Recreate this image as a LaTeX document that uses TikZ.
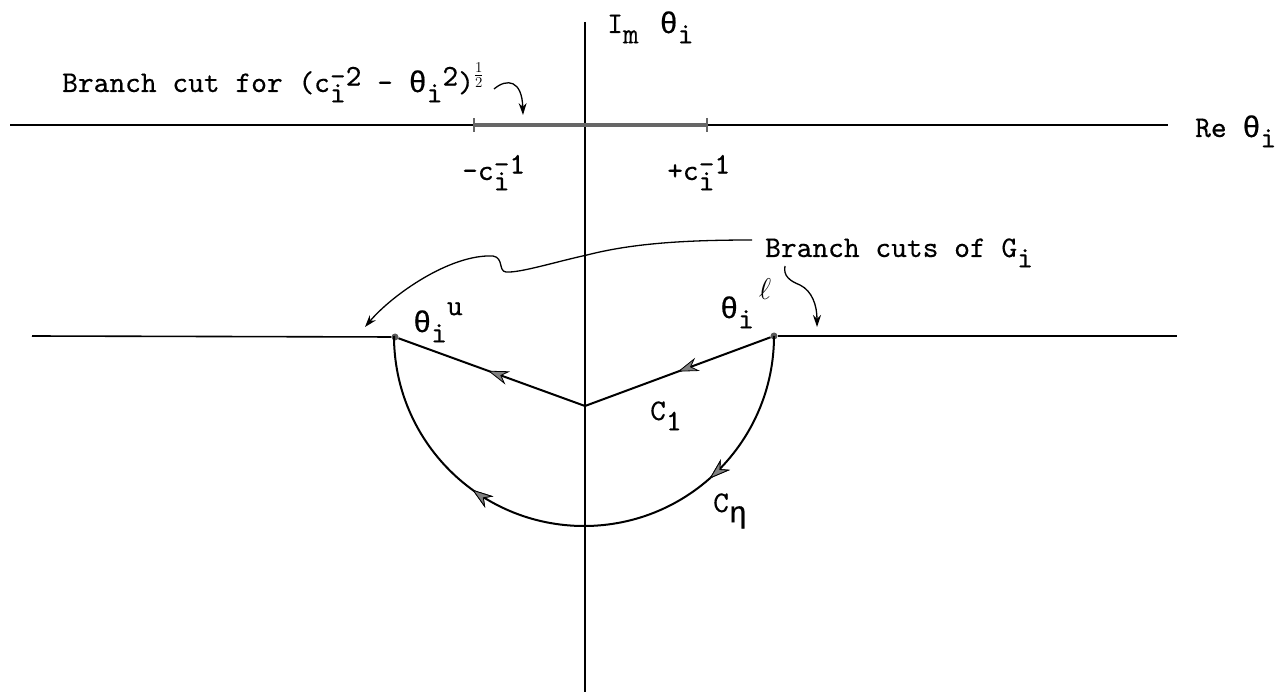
\RequirePackage{fix-cm}
\documentclass[tikz,border=0pt]{standalone}
\usepackage{fontspec}
\setmonofont[FakeBold=0.3]{lmmono10-regular.otf}
\newfontfamily\grk[FakeBold=0.5]{Liberation Mono}
\usetikzlibrary{arrows.meta,decorations.markings}

% typewriter style half-line shifts
\newcommand{\dn}[1]{\raisebox{-0.8ex}{#1}}
\newcommand{\up}[2][0.5ex]{\raisebox{#1}{#2}}
\newcommand{\dnup}[2]{\makebox[0pt][l]{\dn{#1}}\up{#2}}
\newcommand{\gth}{{\grk θ}}

\begin{document}
\begin{tikzpicture}[
  x=1pt, y=-1pt,
  font=\fontsize{30}{36}\selectfont\ttfamily,
  axis/.style={line width=1.6pt},
  cutline/.style={line width=4.5pt, black!60,
                  {Bar[width=14pt,line width=2pt]}-{Bar[width=14pt,line width=2pt]}},
  contour/.style={line width=2pt},
  pointer/.style={line width=1.3pt, -{Stealth[length=12pt,width=8pt]}},
  dotn/.style={circle, fill=black!65, inner sep=0pt, minimum size=7pt},
  lbl/.style={anchor=base west, inner sep=0pt},
  midarrow/.style={postaction={decorate}, decoration={markings,
      mark=at position #1 with {\arrow{Stealth[length=21pt,width=14pt,fill=black!50,line width=0.8pt]}}}}
]
\useasboundingbox (0,0) rectangle (1283,700);

% Axes
\coordinate (reL) at (10,125);
\coordinate (reR) at (1168,125);
\coordinate (imT) at (585,22);
\coordinate (imB) at (585,692);
\draw[axis] (reL) -- (reR);
\draw[axis] (imT) -- (imB);

% Branch cut on the real axis
\coordinate (mcinv) at (473,125);
\coordinate (pcinv) at (708,125);
\draw[cutline] (mcinv) -- (pcinv);

% Branch points and contour
\node[dotn] (tu) at (395,337) {};
\node[dotn] (tl) at (774,336) {};
\coordinate (vtx) at (585,406);
\coordinate (gcutL) at (32,336);
\coordinate (gcutR) at (1177,336);
\draw[axis] (gcutL) -- (tu);
\draw[axis] (tl) -- (gcutR);

\draw[contour, midarrow=0.5] (tl) -- (vtx);
\draw[contour, midarrow=0.52] (vtx) -- (tu);
\draw[contour, midarrow=0.27, midarrow=0.7] (tl.center) arc[start angle=0, end angle=180, radius=190];

% Labels
\node[lbl] (imlab) at (607,33) {I\dn{m}\hspace{21pt}\gth\dn{i}};
\node[lbl] (relab) at (1195,137) {Re \gth\dn{i}};
\node[lbl] (bcut) at (62,92)
  {Branch cut for (c\dnup{i}{-2} - \gth\dn{i}\up{2})\raisebox{0.9ex}{$\scriptstyle\frac{1}{2}$}};
\node[lbl] (mclab) at (462,180) {-c\dnup{i}{-1}};
\node[lbl] (pclab) at (667,180) {+c\dnup{i}{-1}};
\node[lbl] (cutsG) at (765,257) {Branch cuts of G\dn{i}};
\node[lbl] (tulab) at (413,332) {\gth\dn{i}\up[1.3ex]{u}};
\node[lbl] (tllab) at (720,318) {\gth\dn{i}\,\up[1.4ex]{$\ell$}};
\node[lbl] (c1lab) at (650,420) {C\dn{1}};
\node[lbl] (celab) at (713,512) {C\dn{\grk η}};

% Pointers
\coordinate (bstart) at (494,89);
\coordinate (cutmark) at (523,115);
\draw[pointer] (bstart) .. controls (507,78) and (522,80) .. (cutmark);

\coordinate (gstart) at (752,240);
\coordinate (gleft) at (365,327);
\draw[pointer] (gstart) .. controls (680,240) and (630,244) .. (587,255)
  .. controls (555,262) and (520,273) .. (506,272)
  .. controls (498,271) and (504,258) .. (493,256)
  .. controls (450,254) and (392,295) .. (gleft);

\coordinate (gstart2) at (785,266);
\coordinate (gright) at (817,327);
\draw[pointer] (gstart2) .. controls (783,276) and (790,281) .. (800,285)
  .. controls (812,291) and (817,305) .. (gright);

\end{tikzpicture}
\end{document}
